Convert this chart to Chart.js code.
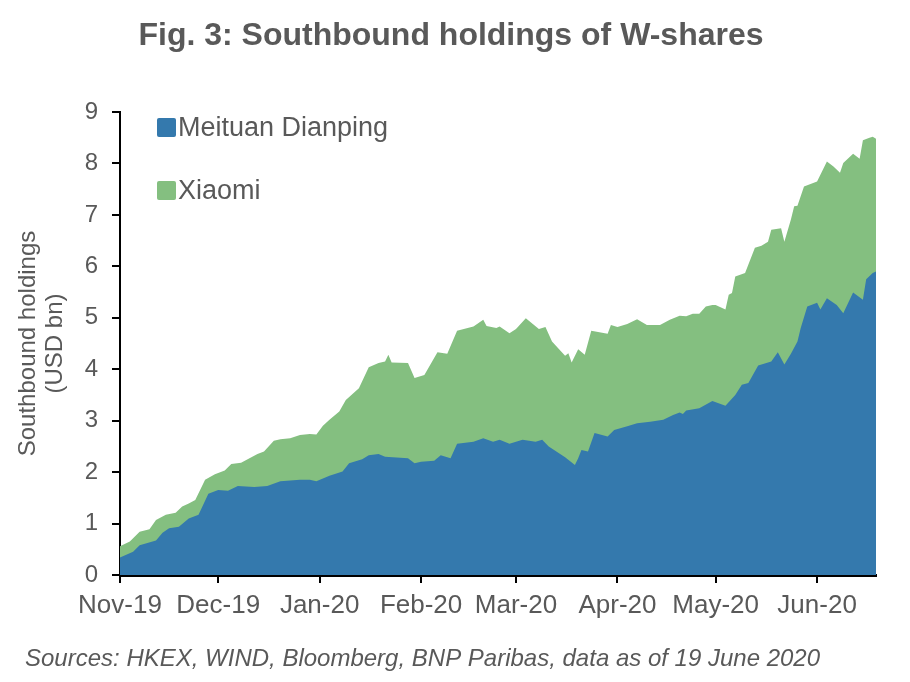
<!DOCTYPE html>
<html>
<head>
<meta charset="utf-8">
<script src="https://cdn.jsdelivr.net/npm/chart.js@4.4.1/dist/chart.umd.min.js"></script>
<style>
  html, body { margin: 0; padding: 0; background: #fff; }
  #wrap { width: 910px; height: 682px; position: relative; }
</style>
</head>
<body>
<div id="wrap"><canvas id="holdingsChart" width="910" height="682"></canvas></div>
<script>
// x values are days counted from 1 Nov 2019
const monthDays = [0, 30, 61, 92, 121, 152, 182, 213];
const monthLabels = ['Nov-19', 'Dec-19', 'Jan-20', 'Feb-20', 'Mar-20', 'Apr-20', 'May-20', 'Jun-20'];

// Meituan Dianping holdings (USD bn)
const meituanDays = [0,4,6,11,13,15,18,21,24,27,30,33,36,41,45,49,55,58,60,64,68,70,74,76,79,81,88,90,92,96,98,101,103,108,111,114,116,119,123,125,127,129,131,136,139,140,141,143,145,149,151,155,158,162,166,169,171,172,173,177,181,185,188,190,192,195,199,201,203,205,207,208,210,213,214,216,219,221,224,227,228,230,231];
const meituanVals = [0.34,0.45,0.58,0.67,0.82,0.91,0.94,1.10,1.17,1.58,1.65,1.64,1.73,1.71,1.73,1.82,1.85,1.85,1.82,1.93,2.01,2.17,2.25,2.33,2.35,2.30,2.27,2.17,2.20,2.22,2.33,2.27,2.55,2.59,2.66,2.59,2.63,2.55,2.63,2.61,2.59,2.63,2.50,2.29,2.14,2.27,2.43,2.40,2.76,2.69,2.82,2.89,2.95,2.98,3.02,3.11,3.16,3.13,3.20,3.24,3.38,3.29,3.50,3.70,3.73,4.07,4.15,4.33,4.09,4.30,4.54,4.80,5.22,5.29,5.16,5.38,5.25,5.09,5.49,5.35,5.75,5.87,5.90];

// top of the Xiaomi layer = Meituan + Xiaomi (USD bn)
const totalDays = [0,3,6,9,11,14,17,19,21,23,26,29,32,34,37,42,44,47,49,52,55,58,60,62,64,67,69,73,76,79,81,82,83,88,90,93,97,100,103,108,111,112,115,116,119,121,124,128,130,132,136,137,138,140,142,144,149,150,152,155,158,161,165,168,171,173,175,177,179,181,182,185,186,187,188,191,194,196,198,199,202,203,205,206,207,209,213,216,218,220,221,224,226,227,229,230,231];
const totalVals = [0.56,0.65,0.84,0.89,1.07,1.17,1.21,1.33,1.39,1.46,1.85,1.96,2.03,2.16,2.18,2.35,2.40,2.61,2.64,2.66,2.72,2.74,2.73,2.90,3.02,3.18,3.40,3.63,4.04,4.12,4.15,4.28,4.13,4.12,3.83,3.89,4.33,4.30,4.75,4.83,4.96,4.84,4.80,4.83,4.70,4.78,4.99,4.78,4.82,4.54,4.26,4.31,4.13,4.39,4.28,4.75,4.69,4.86,4.82,4.88,4.97,4.86,4.86,4.96,5.04,5.03,5.08,5.08,5.22,5.25,5.25,5.16,5.45,5.48,5.80,5.87,6.36,6.40,6.48,6.71,6.74,6.48,6.91,7.17,7.18,7.55,7.65,8.04,7.94,7.82,8.01,8.19,8.09,8.45,8.50,8.52,8.48];

const blue = '#3479ad';
const green = '#84bf80';
const textColor = '#595959';
const fontFamily = '"Liberation Sans", Arial, sans-serif';

const toPoints = (xs, ys) => xs.map((x, i) => ({ x: x, y: ys[i] }));

// title, legend and source note
const decor = {
    id: 'decor',
    afterDraw(chart) {
        const c = chart.ctx;
        c.save();
        c.fillStyle = textColor;
        c.textBaseline = 'alphabetic';
        c.textAlign = 'center';
        c.font = 'bold 32px ' + fontFamily;
        c.fillText('Fig. 3: Southbound holdings of W-shares', 451, 45);

        c.textAlign = 'left';
        c.textBaseline = 'middle';
        c.font = '27px ' + fontFamily;
        chart.data.datasets.forEach((ds, i) => {
            const y = 128 + i * 63;
            c.fillStyle = ds.backgroundColor;
            c.beginPath();
            c.roundRect(157, y - 10, 19, 19, 2);
            c.fill();
            c.fillStyle = textColor;
            c.fillText(ds.label, 178, y + 1);
        });

        c.textBaseline = 'alphabetic';
        c.font = 'italic 24px ' + fontFamily;
        c.fillText('Sources: HKEX, WIND, Bloomberg, BNP Paribas, data as of 19 June 2020', 25, 666);
        c.restore();
    }
};

const ctx = document.getElementById('holdingsChart').getContext('2d');
const myChart = new Chart(ctx, {
    type: 'line',
    data: {
        datasets: [{
            label: 'Meituan Dianping',
            data: toPoints(meituanDays, meituanVals),
            backgroundColor: blue,
            borderWidth: 0,
            fill: 'origin'
        }, {
            label: 'Xiaomi',
            data: toPoints(totalDays, totalVals),
            backgroundColor: green,
            borderWidth: 0,
            fill: 'origin'
        }]
    },
    options: {
        responsive: false,
        animation: false,
        layout: { padding: { top: 112, right: 34, bottom: 57, left: 0 } },
        elements: { point: { radius: 0 }, line: { tension: 0 } },
        plugins: {
            legend: { display: false },
            tooltip: { enabled: false }
        },
        scales: {
            x: {
                type: 'linear',
                min: 0,
                max: 231,
                z: 1,
                afterBuildTicks: (scale) => {
                    scale.ticks = monthDays.map(v => ({ value: v }));
                },
                afterFit: (scale) => { scale.height = 50; },
                grid: { drawOnChartArea: false, tickLength: 8, color: '#000', lineWidth: 2 },
                border: { color: '#000', width: 3 },
                ticks: {
                    autoSkip: false,
                    maxRotation: 0,
                    padding: 7,
                    color: textColor,
                    font: { family: fontFamily, size: 26 },
                    callback: (v) => monthLabels[monthDays.indexOf(v)]
                }
            },
            y: {
                min: 0,
                max: 9,
                z: 1,
                afterFit: (scale) => { scale.width = 120; },
                grid: { drawOnChartArea: false, tickLength: 8, color: '#000', lineWidth: 2 },
                border: { color: '#000', width: 2 },
                ticks: {
                    stepSize: 1,
                    padding: 14,
                    color: textColor,
                    font: { family: fontFamily, size: 24 }
                },
                title: {
                    display: true,
                    text: ['Southbound holdings', '(USD bn)'],
                    color: textColor,
                    padding: { top: 15, bottom: 0 },
                    font: { family: fontFamily, size: 24, lineHeight: 1.12 }
                }
            }
        }
    },
    plugins: [decor]
});
</script>
</body>
</html>
